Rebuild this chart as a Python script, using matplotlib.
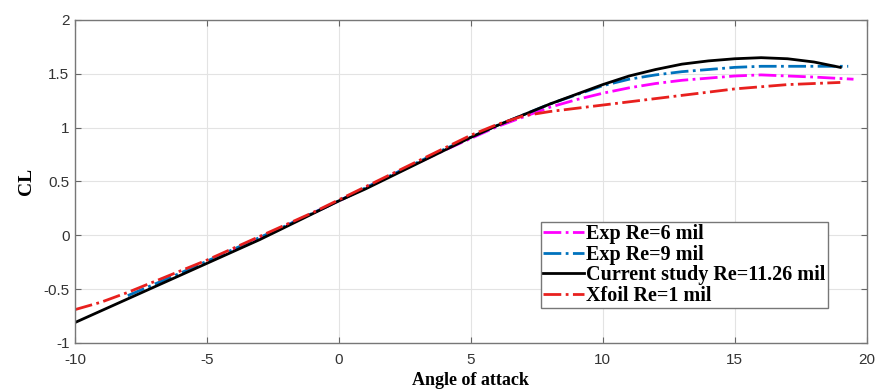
import matplotlib
matplotlib.use("Agg")
import matplotlib.pyplot as plt

# CL vs angle of attack
aoa_cur = [-10, -9, -8, -7, -6, -5, -4, -3, -2, -1, 0, 1, 2, 3, 4, 5, 6, 7, 8, 9,
           10, 11, 12, 13, 14, 15, 16, 17, 18, 19]
cl_cur = [-0.81, -0.70, -0.59, -0.48, -0.37, -0.26, -0.15, -0.04, 0.08, 0.20,
          0.32, 0.43, 0.55, 0.67, 0.79, 0.91, 1.02, 1.12, 1.22, 1.31,
          1.40, 1.48, 1.54, 1.59, 1.62, 1.64, 1.65, 1.64, 1.61, 1.56]

aoa_xfoil = aoa_cur
cl_xfoil = [-0.69, -0.62, -0.53, -0.43, -0.33, -0.23, -0.12, -0.01, 0.10, 0.21,
            0.33, 0.45, 0.57, 0.69, 0.81, 0.93, 1.03, 1.11, 1.15, 1.18,
            1.21, 1.24, 1.27, 1.30, 1.33, 1.36, 1.38, 1.40, 1.41, 1.42]

aoa_exp9 = [-8, -6, -4, -2, 0, 2, 4, 6, 8, 10, 11, 12, 13, 14, 15, 16, 17, 18, 19.3]
cl_exp9 = [-0.56, -0.35, -0.13, 0.09, 0.32, 0.56, 0.80, 1.02, 1.22, 1.39,
           1.45, 1.49, 1.52, 1.54, 1.56, 1.57, 1.57, 1.57, 1.57]

aoa_exp6 = [-4, -2, 0, 2, 4, 6, 8, 9, 10, 11, 12, 13, 14, 15, 16, 17, 18, 19.5]
cl_exp6 = [-0.14, 0.09, 0.32, 0.56, 0.79, 1.01, 1.19, 1.26, 1.32, 1.37,
           1.41, 1.44, 1.46, 1.48, 1.49, 1.48, 1.47, 1.45]

fig = plt.figure(figsize=(8.79, 3.92), dpi=100)
ax = fig.add_axes([0.0853, 0.125, 0.9007, 0.824])

ax.plot(aoa_exp6, cl_exp6, '-.', color='#FF00FF', lw=2, label='Exp Re=6 mil')
ax.plot(aoa_exp9, cl_exp9, '-.', color='#0072BD', lw=2, label='Exp Re=9 mil')
ax.plot(aoa_cur, cl_cur, '-', color='black', lw=2, label='Current study Re=11.26 mil')
ax.plot(aoa_xfoil, cl_xfoil, '-.', color='#E8201E', lw=2, label='Xfoil Re=1 mil')

ax.set_xlim(-10, 20)
ax.set_ylim(-1, 2)
ax.set_xticks([-10, -5, 0, 5, 10, 15, 20])
ax.set_yticks([-1, -0.5, 0, 0.5, 1, 1.5, 2])
ax.set_yticklabels(['-1', '-0.5', '0', '0.5', '1', '1.5', '2'])
ax.set_xticklabels(['-10', '-5', '0', '5', '10', '15', '20'])
ax.grid(True, color='#e3e3e3', lw=0.8)
ax.set_axisbelow(True)
ax.tick_params(direction='in', top=True, right=True, length=4, color='#666666',
               labelsize=11, labelcolor='#333333')
ax.tick_params(axis='x', pad=7)
ax.tick_params(axis='y', pad=4)
for lab in ax.get_xticklabels() + ax.get_yticklabels():
    lab.set_family('Liberation Sans')
for s in ax.spines.values():
    s.set_color('#777777')
    s.set_linewidth(1)

ax.set_xlabel('Angle of attack', family='Liberation Serif', weight='bold',
              fontsize=13, labelpad=4)
ax.set_ylabel('CL', family='Liberation Serif', weight='bold', fontsize=14, labelpad=6)

leg = ax.legend(loc='lower right', bbox_to_anchor=(0.951, 0.108),
                prop={'family': 'Liberation Serif', 'weight': 'bold', 'size': 14.5},
                fancybox=False, framealpha=1, edgecolor='#777777',
                handlelength=2.0, handletextpad=0.12, borderpad=0.12,
                labelspacing=0.02, borderaxespad=0)
leg.get_frame().set_linewidth(1)

fig.savefig('out.png', dpi=100)
